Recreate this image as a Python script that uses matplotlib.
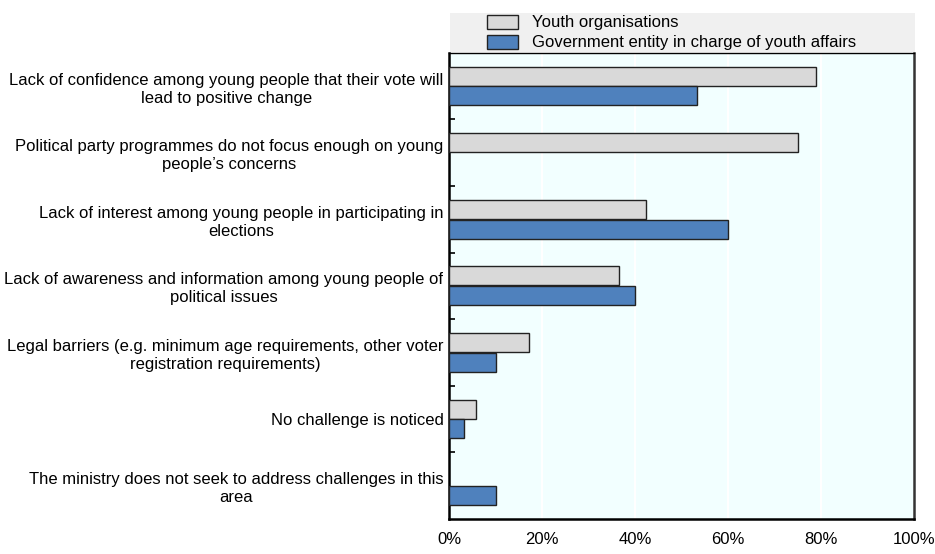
import matplotlib
matplotlib.use("Agg")
import matplotlib.pyplot as plt
from matplotlib.patches import Rectangle

categories = [
    "Lack of confidence among young people that their vote will\nlead to positive change",
    "Political party programmes do not focus enough on young\npeople\u2019s concerns",
    "Lack of interest among young people in participating in\nelections",
    "Lack of awareness and information among young people of\npolitical issues",
    "Legal barriers (e.g. minimum age requirements, other voter\nregistration requirements)",
    "No challenge is noticed",
    "The ministry does not seek to address challenges in this\narea",
]
youth_orgs = [78.9, 75.0, 42.3, 36.6, 17.3, 5.8, 0.0]
government = [53.3, 0.0, 60.0, 40.0, 10.0, 3.3, 10.0]
series_names = ["Youth organisations", "Government entity in charge of youth affairs"]
xticks = [0, 20, 40, 60, 80, 100]
xticklabels = ["0%", "20%", "40%", "60%", "80%", "100%"]

plt.rcParams["font.family"] = ["Liberation Sans", "DejaVu Sans"]
FS = 12

grey = "#d9d9d9"
blue = "#4f81bd"

fig = plt.figure(figsize=(9.35, 5.54), dpi=100)
W, H = 935, 554
ax = fig.add_axes([449 / W, 1 - 519 / H, (914 - 449) / W, (519 - 52.7) / H])
ax.set_facecolor("#f2ffff")

ys = list(range(len(categories)))
h = 0.285
off = 0.148
edge = "#222222"
ax.barh([y - off for y in ys], youth_orgs, height=h, color=grey,
        edgecolor=[edge if v > 0 else "none" for v in youth_orgs], linewidth=1, zorder=3)
ax.barh([y + off for y in ys], government, height=h, color=blue,
        edgecolor=[edge if v > 0 else "none" for v in government], linewidth=1, zorder=3)

ax.set_xlim(0, 100)
ax.set_ylim(len(categories) - 0.5, -0.5)
ax.set_xticks(xticks)
ax.set_xticklabels(xticklabels, fontsize=FS)
ax.tick_params(axis="x", length=0, pad=9)
ax.set_yticks(ys)
ax.set_yticklabels(categories, fontsize=FS, ha="right", multialignment="center", linespacing=1.25)
ax.tick_params(axis="y", which="major", length=0, pad=4)
ax.set_yticks([y + 0.5 for y in ys[:-1]], minor=True)
ax.tick_params(axis="y", which="minor", direction="in", length=4, width=1.2, color="black")
ax.grid(axis="x", color="white", linewidth=1.5, zorder=0)
ax.set_axisbelow(True)
for side in ["left", "bottom", "right", "top"]:
    ax.spines[side].set_color("black")
ax.spines["left"].set_linewidth(1.8)
ax.spines["bottom"].set_linewidth(1.8)
ax.spines["right"].set_linewidth(1.8)
ax.spines["right"].set_color("#333333")
ax.spines["top"].set_linewidth(1.0)

# Legend panel
fig.patches.append(Rectangle((450 / W, 1 - 52 / H), (915 - 450) / W, (52 - 13) / H,
                             transform=fig.transFigure, facecolor="#f0f0f0", edgecolor="none", zorder=0))
for i, (name, col) in enumerate(zip(series_names, [grey, blue])):
    top = 15 + i * 20
    fig.patches.append(Rectangle((487 / W, 1 - (top + 14) / H), 31 / W, 14 / H,
                                 transform=fig.transFigure, facecolor=col, edgecolor=edge,
                                 linewidth=1, zorder=2))
    fig.text(532 / W, 1 - (top + 7) / H, name, fontsize=FS, va="center", ha="left")

fig.savefig("out.png", dpi=100)
